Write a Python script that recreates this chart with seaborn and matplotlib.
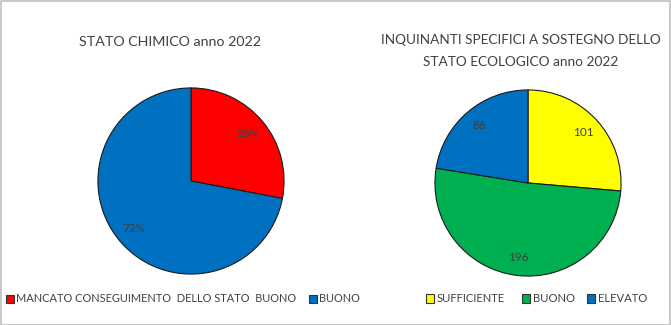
import matplotlib
matplotlib.use("Agg")
import matplotlib.pyplot as plt
from matplotlib.patches import Patch, Rectangle
import seaborn as sns

sns.set_theme(style="white")
plt.rcParams["font.family"] = ["Lato", "DejaVu Sans"]

# Stato chimico (percentuali)
chem_labels = ["MANCATO CONSEGUIMENTO  DELLO STATO  BUONO", "BUONO"]
chem_values = [28, 72]
chem_colors = ["#FF0000", "#0070C0"]

# Inquinanti specifici (numero di corpi idrici)
eco_labels = ["SUFFICIENTE", "BUONO", "ELEVATO"]
eco_values = [101, 196, 86]
eco_colors = ["#FFFF00", "#00B050", "#0070C0"]

W, H = 671, 325
fig = plt.figure(figsize=(W / 100, H / 100), dpi=100)
fig.patch.set_facecolor("white")

# cornice esterna
fig.add_artist(Rectangle((0.5 / W, 0.5 / H), 1 - 1.5 / W, 1 - 1.5 / H,
                         transform=fig.transFigure, fill=False,
                         edgecolor="#BFBFBF", linewidth=1.2))

txt = "#404040"
wedge_style = dict(edgecolor="#1a1a1a", linewidth=0.8)


def pie_axes(cx, cy, r):
    return fig.add_axes([(cx - r) / W, (H - cy - r) / H, 2 * r / W, 2 * r / H])


ax1 = pie_axes(191, 181, 94)
ax1.pie(chem_values, colors=chem_colors, startangle=90, counterclock=False,
        autopct=lambda p: f"{p:.0f}%", pctdistance=0.80,
        wedgeprops=wedge_style, textprops=dict(color=txt, fontsize=8.5))
ax1.set_xlim(-1.01, 1.01)
ax1.set_ylim(-1.01, 1.01)
ax1.set_aspect("equal")
ax1.axis("off")

ax2 = pie_axes(528, 183, 94)
total = sum(eco_values)
ax2.pie(eco_values, colors=eco_colors, startangle=90, counterclock=False,
        autopct=lambda p: f"{round(p * total / 100):.0f}", pctdistance=0.81,
        wedgeprops=wedge_style, textprops=dict(color=txt, fontsize=8.5))
ax2.set_xlim(-1.01, 1.01)
ax2.set_ylim(-1.01, 1.01)
ax2.set_aspect("equal")
ax2.axis("off")

fig.text(170 / W, 1 - 42 / H, "STATO CHIMICO anno 2022", ha="center", va="center",
         fontsize=10.3, color=txt)
fig.text(521 / W, 1 - 40 / H, "INQUINANTI SPECIFICI A SOSTEGNO DELLO",
         ha="center", va="center", fontsize=9.8, color=txt)
fig.text(521 / W, 1 - 62 / H, "STATO ECOLOGICO anno 2022",
         ha="center", va="center", fontsize=9.8, color=txt)

leg_kw = dict(frameon=False, handlelength=0.75, handleheight=0.75,
              handletextpad=0.2, labelcolor=txt, borderaxespad=0, borderpad=0,
              loc="center left")


def legend_entry(x_px, color, label, size):
    h = Patch(facecolor=color, edgecolor="#333333", linewidth=0.8)
    fig.legend([h], [label], bbox_to_anchor=(x_px / W, 1 - 299 / H),
               fontsize=size, **leg_kw)


for x, c, lab in zip([6, 309], chem_colors, chem_labels):
    legend_entry(x, c, lab, 7.9)
for x, c, lab in zip([426, 522, 587], eco_colors, eco_labels):
    legend_entry(x, c, lab, 8.1)

fig.savefig("out.png", dpi=100, facecolor="white")
